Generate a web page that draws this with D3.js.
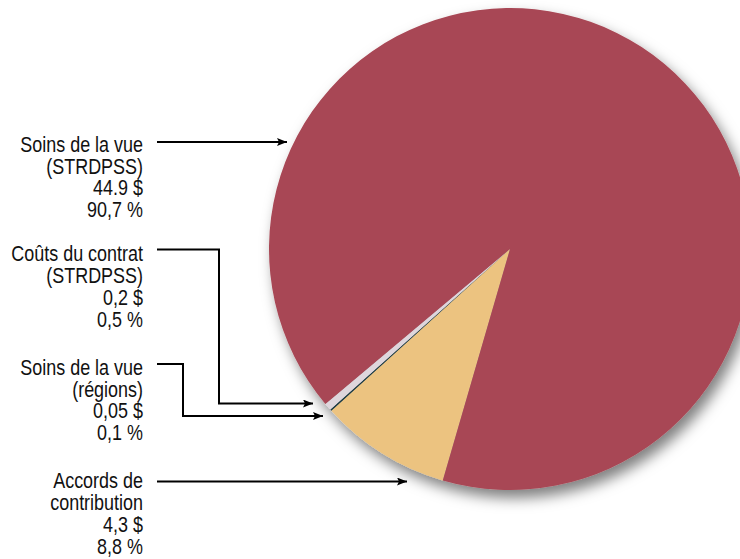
<!DOCTYPE html>
<html>
<head>
<meta charset="utf-8">
<script src="https://cdn.jsdelivr.net/npm/d3@7"></script>
<style>
  html, body { margin: 0; padding: 0; background: #fff; }
  svg { display: block; }
  text { font-family: "Liberation Sans", Arial, sans-serif; font-size: 21.5px; fill: #111; }
</style>
</head>
<body>
<div id="area"></div>
<script>
// slices in drawing order (clockwise from the tan slice)
var categories = ['Accords de contribution', 'Soins de la vue (régions)', 'Coûts du contrat (STRDPSS)', 'Soins de la vue (STRDPSS)'];
var percents = [8.8, 0.1, 0.5, 90.7];
var amounts = ['4,3 $', '0,05 $', '0,2 $', '44.9 $'];
var pctLabels = ['8,8 %', '0,1 %', '0,5 %', '90,7 %'];
var labelLines = [
  ['Accords de', 'contribution'],
  ['Soins de la vue', '(régions)'],
  ['Coûts du contrat', '(STRDPSS)'],
  ['Soins de la vue', '(STRDPSS)']
];
var colors = ['#ECC380', '#1D3A40', '#DED6DC', '#A84754'];

var width = 740, height = 559;
var cx = 510, cy = 249, radius = 241;
var startDeg = 196.2;
var squeeze = 0.835; // no narrow font installed, so condense the text by hand

var svg = d3.select('#area').append('svg')
    .attr('width', width)
    .attr('height', height);

var defs = svg.append('defs');
var shadow = defs.append('filter')
    .attr('id', 'shadow')
    .attr('x', '-20%').attr('y', '-20%')
    .attr('width', '140%').attr('height', '140%');
shadow.append('feDropShadow')
    .attr('dx', 5).attr('dy', 8)
    .attr('stdDeviation', 7)
    .attr('flood-color', '#000')
    .attr('flood-opacity', 0.5);

defs.append('marker')
    .attr('id', 'arrow')
    .attr('viewBox', '0 0 10 8')
    .attr('refX', 10).attr('refY', 4)
    .attr('markerWidth', 10).attr('markerHeight', 8)
    .attr('markerUnits', 'userSpaceOnUse')
    .attr('orient', 'auto')
  .append('path')
    .attr('d', 'M0,0 L10,4 L0,8 L2,4 Z')
    .attr('fill', '#000');

var pie = d3.pie()
    .sort(null)
    .value(function(d) { return d; })
    .startAngle(startDeg * Math.PI / 180)
    .endAngle(startDeg * Math.PI / 180 + 2 * Math.PI);

var arc = d3.arc().innerRadius(0).outerRadius(radius);

var pieGroup = svg.append('g')
    .attr('transform', 'translate(' + cx + ',' + cy + ')')
    .attr('filter', 'url(#shadow)');

pieGroup.selectAll('path')
    .data(pie(percents))
  .enter().append('path')
    .attr('d', arc)
    .attr('fill', function(d, i) { return colors[i]; });

// leader lines: [start y, elbow x (or null), end y, arrow tip x]
var leaders = [
  [481.5, null, 481.5, 407],
  [364, 183, 416, 323],
  [249.5, 219, 403.5, 313],
  [142, null, 142, 287]
];
var textTop = [488.5, 375, 261.5, 152];
var lineStep = 21.7;
var lineStartX = 157, textRight = 143;

var labels = svg.append('g');

leaders.forEach(function(l, i) {
  var pts = l[1] === null
      ? [[lineStartX, l[0]], [l[3], l[2]]]
      : [[lineStartX, l[0]], [l[1], l[0]], [l[1], l[2]], [l[3], l[2]]];
  labels.append('path')
      .attr('d', d3.line()(pts))
      .attr('fill', 'none')
      .attr('stroke', '#000')
      .attr('stroke-width', 2)
      .attr('marker-end', 'url(#arrow)');

  var rows = labelLines[i].concat([amounts[i], pctLabels[i]]);
  var t = labels.append('text')
      .attr('transform', 'scale(' + squeeze + ',1)')
      .attr('text-anchor', 'end');
  rows.forEach(function(r, j) {
    t.append('tspan')
        .attr('x', textRight / squeeze)
        .attr('y', textTop[i] + j * lineStep)
        .text(r);
  });
});
</script>
</body>
</html>
